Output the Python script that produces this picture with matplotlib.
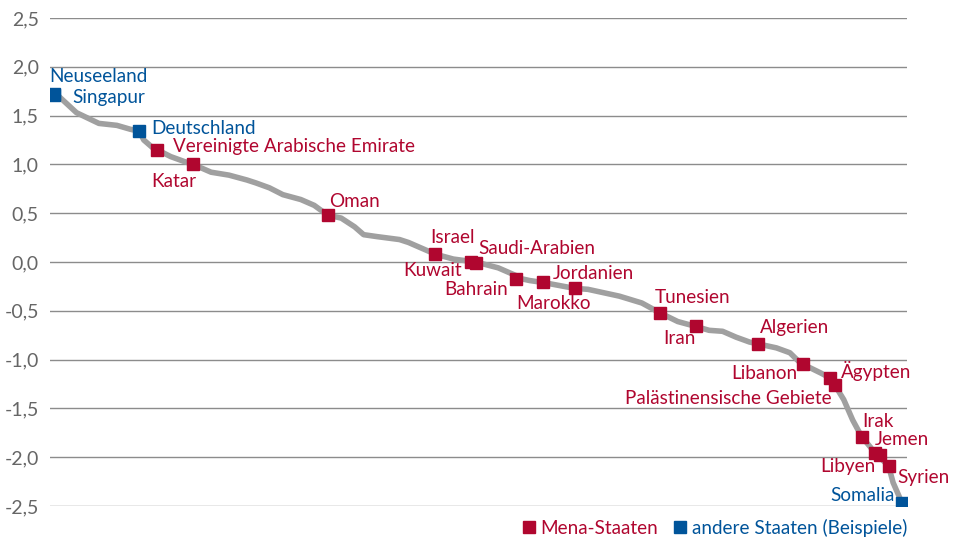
import matplotlib
matplotlib.use("Agg")
import matplotlib.pyplot as plt
from matplotlib.lines import Line2D

line_rank = [1, 2, 6, 11, 15, 18, 20, 21, 23, 24, 27, 30, 32, 36, 40, 44, 46, 49, 52,
             56, 59, 62, 65, 68, 70, 73, 78, 80, 83, 86, 90, 95, 100, 104, 105, 107, 110,
             117, 120, 124, 127, 132, 136, 140, 144, 147, 150, 153, 156, 158, 162, 165,
             167, 168, 172, 174, 175, 177, 179, 181, 183, 184, 185, 187, 188, 190]
line_value = [1.72, 1.70, 1.53, 1.42, 1.40, 1.36, 1.34, 1.25, 1.17, 1.15, 1.08, 1.03,
              1.00, 0.92, 0.89, 0.84, 0.81, 0.76, 0.69, 0.64, 0.58, 0.48, 0.45, 0.36,
              0.28, 0.26, 0.23, 0.20, 0.14, 0.08, 0.03, 0.00, -0.06, -0.14, -0.17, -0.19,
              -0.21, -0.27, -0.28, -0.32, -0.35, -0.42, -0.52, -0.61, -0.66, -0.70, -0.71,
              -0.77, -0.82, -0.84, -0.88, -0.93, -1.02, -1.05, -1.14, -1.19, -1.26, -1.41,
              -1.62, -1.79, -1.90, -1.97, -2.00, -2.09, -2.26, -2.47]

mena_names = ["Vereinigte Arabische Emirate", "Katar", "Oman", "Israel", "Kuwait",
              "Saudi-Arabien", "Bahrain", "Marokko", "Jordanien", "Tunesien", "Iran",
              "Algerien", "Libanon", "Ägypten", "Palästinensische Gebiete", "Irak",
              "Jemen", "Libyen", "Syrien"]
mena_rank = [24, 32, 62, 86, 94, 95, 104, 110, 117, 136, 144, 158, 168, 174, 175, 181,
             184, 185, 187]
mena_value = [1.15, 1.00, 0.48, 0.08, 0.00, -0.01, -0.17, -0.21, -0.27, -0.52, -0.66,
              -0.84, -1.05, -1.19, -1.26, -1.79, -1.96, -1.98, -2.09]

other_names = ["Neuseeland", "Singapur", "Deutschland", "Somalia"]
other_rank = [1, 1, 20, 190]
other_value = [1.72, 1.71, 1.34, -2.47]

yticks = [2.5, 2.0, 1.5, 1.0, 0.5, 0.0, -0.5, -1.0, -1.5, -2.0, -2.5]
ytick_labels = ["2,5", "2,0", "1,5", "1,0", "0,5", "0,0", "-0,5", "-1,0", "-1,5", "-2,0", "-2,5"]

RED = "#b0062f"
BLUE = "#00549a"
GREY = "#a0a0a0"

# label offsets in pixels (dx, dy) and horizontal alignment
offsets = {
    "Neuseeland": (-5, 18, "left"), "Singapur": (18, -2, "left"),
    "Deutschland": (12, 3, "left"), "Somalia": (-7, 8, "right"),
    "Vereinigte Arabische Emirate": (16, 3, "left"), "Katar": (-42, -17, "left"),
    "Oman": (1, 14, "left"), "Israel": (-5, 17, "left"), "Kuwait": (-9, -9, "right"),
    "Saudi-Arabien": (3, 14, "left"), "Bahrain": (-8, -11, "right"),
    "Marokko": (-27, -21, "left"), "Jordanien": (-22, 15, "left"),
    "Tunesien": (-5, 15, "left"), "Iran": (0, -12, "right"),
    "Algerien": (1, 16, "left"), "Libanon": (-6, -9, "right"),
    "Ägypten": (11, 7, "left"), "Palästinensische Gebiete": (-3, -14, "right"),
    "Irak": (1, 15, "left"), "Jemen": (0, 14, "left"), "Libyen": (-4, -11, "right"),
    "Syrien": (9, -12, "left"),
}

FS = 13.6

plt.rcParams["font.family"] = ["Lato", "DejaVu Sans"]

fig = plt.figure(figsize=(9.56, 5.46), dpi=100)
ax = fig.add_axes([50 / 956, 1 - 506 / 546, 857 / 956, 488 / 546])

ax.set_ylim(-2.5, 2.5)
ax.set_xlim(0.1, 191.1)
ax.set_yticks(yticks)
ax.set_yticklabels(ytick_labels)
ax.set_xticks([])
ax.tick_params(axis="y", length=0, pad=8, labelsize=14, labelcolor="#666666")
for s in ax.spines.values():
    s.set_visible(False)
ax.grid(axis="y", color="#8c8c8c", linewidth=1.0)
ax.set_axisbelow(True)

ax.plot(line_rank, line_value, color=GREY, linewidth=4.0, solid_capstyle="round", zorder=2)
ax.plot(mena_rank, mena_value, "s", color=RED, markersize=8.5, zorder=3)
ax.plot(other_rank, other_value, "s", color=BLUE, markersize=8.5, zorder=3)

for names, ranks, values, col in ((mena_names, mena_rank, mena_value, RED),
                                  (other_names, other_rank, other_value, BLUE)):
    for n, r, v in zip(names, ranks, values):
        dx, dy, ha = offsets[n]
        ax.annotate(n, (r, v), xytext=(dx * 0.72, dy * 0.72), textcoords="offset points",
                    ha=ha, va="center", color=col, fontsize=FS, zorder=4)

handles = [Line2D([], [], marker="s", color=RED, linestyle="none", markersize=8.5),
           Line2D([], [], marker="s", color=BLUE, linestyle="none", markersize=8.5)]
fig.legend(handles, ["Mena-Staaten", "andere Staaten (Beispiele)"], loc="lower right",
           bbox_to_anchor=(924 / 956, -0.014), ncol=2, frameon=False, fontsize=FS,
           handlelength=0.6, handletextpad=0.3, columnspacing=0.9,
           labelcolor=[RED, BLUE])

fig.savefig("out.png", dpi=100)
